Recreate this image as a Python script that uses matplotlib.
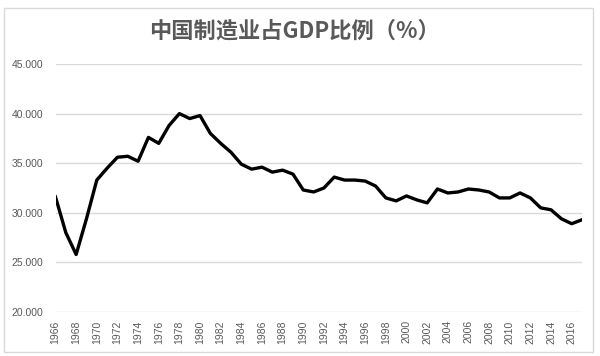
import matplotlib.pyplot as plt
from matplotlib.patches import Rectangle

plt.rcParams['font.family'] = ['Noto Sans CJK SC', 'DejaVu Sans']

# data
years = list(range(1966, 2018))
share = [31.6, 28.0, 25.8, 29.4, 33.3, 34.5, 35.6, 35.7, 35.2, 37.6,
         37.0, 38.8, 40.0, 39.5, 39.8, 38.0, 37.0, 36.1, 34.9, 34.4,
         34.6, 34.1, 34.3, 33.9, 32.3, 32.1, 32.5, 33.6, 33.3, 33.3,
         33.2, 32.7, 31.5, 31.2, 31.7, 31.3, 31.0, 32.4, 32.0, 32.1,
         32.4, 32.3, 32.1, 31.5, 31.5, 32.0, 31.5, 30.5, 30.3, 29.4,
         28.9, 29.3]
y_ticks = [20, 25, 30, 35, 40, 45]
x_ticks = list(range(1966, 2017, 2))
title = "中国制造业占GDP比例（%）"

grey = "#595959"

fig = plt.figure(figsize=(6, 3.56), dpi=100)

# chart area border (Excel style)
fig.patches.append(Rectangle((4 / 600, 1 - 352 / 356), 589 / 600, 344 / 356,
                             transform=fig.transFigure, fill=False,
                             edgecolor="#d9d9d9", linewidth=1))

ax = fig.add_axes([55.5 / 600, 1 - 312 / 356, 526.5 / 600, 248 / 356])
ax.plot(years, share, color="black", linewidth=2.4, solid_joinstyle="round")

ax.set_xlim(1966, 2017)
ax.set_ylim(20, 45)
ax.set_yticks(y_ticks)
ax.set_yticklabels([f"{v:.3f}" for v in y_ticks])
ax.set_xticks(x_ticks)
ax.set_xticklabels([str(y) for y in x_ticks], rotation=90)

for lab in ax.get_xticklabels() + ax.get_yticklabels():
    lab.set_family("Liberation Sans")
    lab.set_fontsize(7.5)
    lab.set_color(grey)

ax.tick_params(axis="both", length=0)
ax.tick_params(axis="y", pad=9)
ax.tick_params(axis="x", pad=6)
ax.grid(axis="y", color="#d9d9d9", linewidth=1)
ax.set_axisbelow(True)
for s in ax.spines.values():
    s.set_visible(False)

fig.text(0.49, 1 - 31 / 356, title, ha="center", va="center",
         fontsize=16, fontweight="bold", color=grey)

fig.savefig("out.png", dpi=100)
